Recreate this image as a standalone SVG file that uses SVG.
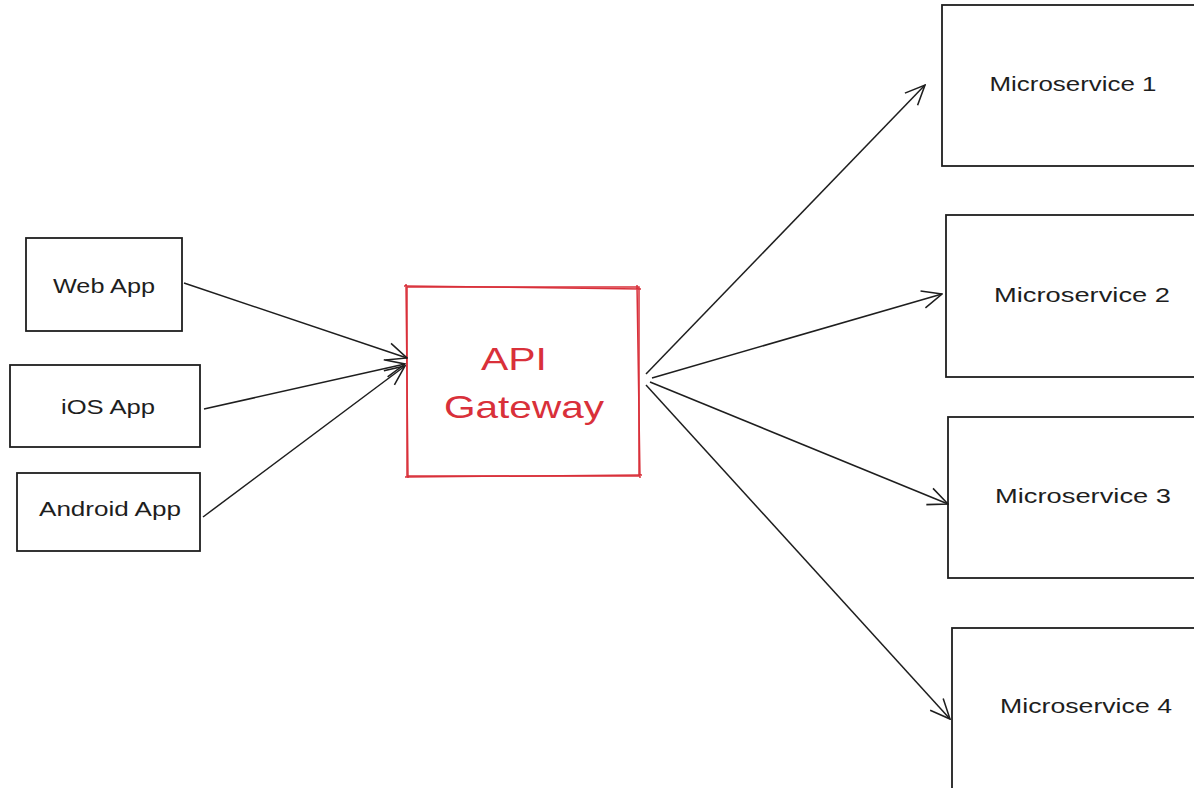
<svg xmlns="http://www.w3.org/2000/svg" width="1194" height="788" viewBox="0 0 1194 788">
<style>
.box{fill:none;stroke:#1e1e1e;stroke-width:1.8}
.gw{fill:none;stroke:#d9303a;stroke-width:1.5}
.lbl{font-family:"Liberation Sans",Arial,sans-serif;font-size:21px;fill:#1e1e1e;text-anchor:middle}
.gwl{font-family:"Liberation Sans",Arial,sans-serif;font-size:32px;fill:#d9303a;text-anchor:middle}
.edge{fill:none;stroke:#1e1e1e;stroke-width:1.5}
</style>
<defs>
<marker id="arr" viewBox="0 0 20 20" refX="19" refY="10" markerWidth="22" markerHeight="22" markerUnits="userSpaceOnUse" orient="auto">
<path d="M1,2 L19,10 L1,18" fill="none" stroke="#1e1e1e" stroke-width="1.4"/>
</marker>
</defs>
<rect width="1194" height="788" fill="#ffffff"/>
<g id="web-app"><rect class="box" x="26" y="238" width="156" height="93"/><text class="lbl" x="104" y="293" textLength="102" lengthAdjust="spacingAndGlyphs">Web App</text></g>
<g id="ios-app"><rect class="box" x="10" y="365" width="190" height="82"/><text class="lbl" x="108" y="414" textLength="94" lengthAdjust="spacingAndGlyphs">iOS App</text></g>
<g id="android-app"><rect class="box" x="17" y="473" width="183" height="78"/><text class="lbl" x="110" y="516" textLength="142" lengthAdjust="spacingAndGlyphs">Android App</text></g>
<g id="api-gateway"><rect class="gw" x="407" y="287" width="232" height="189"/><path class="gw" d="M404,286 L641,289 M406,284 L408,478 M637,285 L640,478 M405,477 L642,475" stroke-width="0.7"/><text class="gwl" x="514" y="370" textLength="66" lengthAdjust="spacingAndGlyphs">API</text><text class="gwl" x="524" y="418" textLength="160" lengthAdjust="spacingAndGlyphs">Gateway</text></g>
<g id="ms1"><rect class="box" x="942" y="5" width="260" height="161"/><text class="lbl" x="1073" y="91" textLength="167" lengthAdjust="spacingAndGlyphs">Microservice 1</text></g>
<g id="ms2"><rect class="box" x="946" y="215" width="260" height="162"/><text class="lbl" x="1082" y="302" textLength="176" lengthAdjust="spacingAndGlyphs">Microservice 2</text></g>
<g id="ms3"><rect class="box" x="948" y="417" width="260" height="161"/><text class="lbl" x="1083" y="503" textLength="176" lengthAdjust="spacingAndGlyphs">Microservice 3</text></g>
<g id="ms4"><rect class="box" x="952" y="628" width="260" height="170"/><text class="lbl" x="1086" y="713" textLength="172" lengthAdjust="spacingAndGlyphs">Microservice 4</text></g>
<g id="connectors">
<path class="edge" d="M184,283 L407,358" marker-end="url(#arr)"/>
<path class="edge" d="M204,409 L405,364" marker-end="url(#arr)"/>
<path class="edge" d="M203,517 L405,366" marker-end="url(#arr)"/>
<path class="edge" d="M646,374 L925,85" marker-end="url(#arr)"/>
<path class="edge" d="M652,378 L942,294" marker-end="url(#arr)"/>
<path class="edge" d="M650,382 L948,504" marker-end="url(#arr)"/>
<path class="edge" d="M646,385 L950,719" marker-end="url(#arr)"/>
</g>
</svg>
